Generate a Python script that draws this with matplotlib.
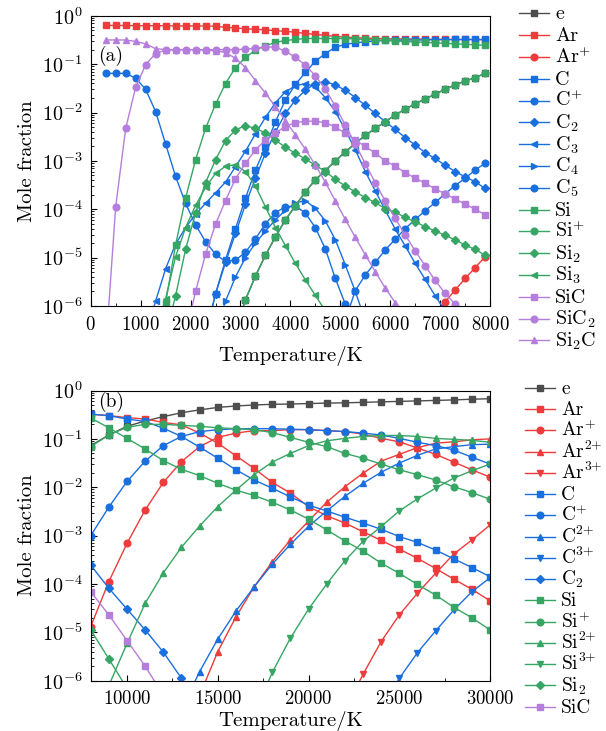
import numpy as np
import matplotlib
matplotlib.use("Agg")
import matplotlib.pyplot as plt
from matplotlib.lines import Line2D

plt.rcParams["font.family"] = "serif"
plt.rcParams["font.serif"] = ["cmr10"]
plt.rcParams["mathtext.fontset"] = "cm"
plt.rcParams["axes.formatter.use_mathtext"] = True

# colours of the species groups
RED = "#EE3B3B"
BLUE = "#1A6FDF"
GREEN = "#37A664"
PURPLE = "#B57EDC"
GREY = "#4D4D4D"

# ---- panel (a): 300-7900 K every 200 K, values are log10(mole fraction) ----
e_a = [-6.5, -5.87, -5.38, -4.95, -4.57, -4.22, -3.93, -3.64, -3.39, -3.20, -3.00, -2.81, -2.64,
       -2.47, -2.33, -2.19, -2.05, -1.93, -1.82, -1.72, -1.62, -1.52, -1.43, -1.35, -1.28, -1.19]
ar_a = [-0.20, -0.20, -0.20, -0.205, -0.205, -0.205, -0.205, -0.21, -0.21, -0.21, -0.21, -0.215,
        -0.24, -0.25, -0.27, -0.28, -0.29, -0.31, -0.32, -0.34, -0.365, -0.385, -0.405, -0.43, -0.44,
        -0.455, -0.46, -0.47, -0.475, -0.478, -0.48, -0.482, -0.484, -0.486, -0.488, -0.49, -0.49,
        -0.492, -0.495]
arp_a = [-6.2, -5.91, -5.67, -5.43, -5.21, -4.98]
c_a = [-6.6, -5.75, -5.05, -4.4, -3.77, -3.19, -2.71, -2.19, -1.74, -1.42, -1.17, -0.94, -0.78,
       -0.65, -0.59, -0.56, -0.54, -0.52, -0.51, -0.505, -0.50, -0.50, -0.50, -0.495, -0.495,
       -0.49, -0.49, -0.49, -0.49]
cp_a = [-6.3, -5.68, -5.36, -5.10, -4.84, -4.62, -4.40, -4.21, -4.03, -3.86, -3.68, -3.51, -3.36,
        -3.19, -3.05]
c2_a = [-6.6, -5.75, -5.1, -4.5, -3.9, -3.36, -2.84, -2.4, -2.02, -1.74, -1.54, -1.40, -1.36, -1.43,
        -1.54, -1.69, -1.85, -2.02, -2.19, -2.35, -2.52, -2.67, -2.83, -2.95, -3.09, -3.22, -3.33,
        -3.43, -3.57]
c3_a = [-6.6, -5.9, -5.23, -4.72, -4.38, -4.1, -3.88, -3.66, -3.44, -3.12, -2.80, -2.44, -2.10,
        -1.80, -1.57, -1.45, -1.40, -1.47, -1.69, -1.98, -2.36, -2.77, -3.22, -3.62, -4.02, -4.41,
        -4.76, -5.12, -5.45, -5.79, -6.1]
c4_a = [-6.6, -5.9, -5.4, -5.0, -4.7, -4.45, -4.22, -4.02, -3.87, -3.82, -3.98, -4.24, -4.63, -5.15,
        -5.7, -6.3]
c5_a = [-1.19, -1.19, -1.19, -1.29, -1.52, -1.98, -2.65, -3.32, -3.88, -4.32, -4.67, -4.93, -5.08,
        -5.05, -4.89, -4.61, -4.30, -4.07, -3.95, -3.93, -4.08, -4.38, -4.82, -5.43, -5.96, -6.6]
si_a = [-6.7, -5.94, -4.74, -3.77, -2.98, -2.33, -1.83, -1.40, -1.07, -0.86, -0.71, -0.62, -0.55,
        -0.51, -0.49, -0.47, -0.47, -0.47, -0.47, -0.47, -0.48, -0.49, -0.50, -0.51, -0.52, -0.53,
        -0.54, -0.55, -0.56, -0.57, -0.58, -0.59, -0.60, -0.61]
sip_a = [-6.5, -5.87, -5.38, -4.95, -4.57, -4.22, -3.93, -3.64, -3.39, -3.20, -3.00, -2.81, -2.64,
         -2.47, -2.33, -2.19, -2.05, -1.93, -1.82, -1.72, -1.62, -1.52, -1.43, -1.35, -1.28, -1.19]
si2_a = [-6.6, -5.79, -4.83, -4.08, -3.45, -2.98, -2.58, -2.36, -2.27, -2.33, -2.42, -2.57, -2.72,
         -2.84, -2.96, -3.09, -3.22, -3.38, -3.52, -3.64, -3.76, -3.86, -3.99, -4.06, -4.17, -4.26,
         -4.36, -4.45, -4.54, -4.63, -4.74, -4.83, -4.95]
si3_a = [-6.9, -5.85, -4.98, -4.38, -3.92, -3.55, -3.26, -3.11, -3.08, -3.22, -3.52, -3.95, -4.38,
         -4.75, -5.12, -5.46, -5.78, -6.1]
sic_a = [-6.6, -5.7, -4.93, -4.31, -3.82, -3.37, -3.05, -2.77, -2.57, -2.42, -2.29, -2.21, -2.18,
         -2.18, -2.21, -2.30, -2.43, -2.57, -2.70, -2.84, -3.0, -3.11, -3.24, -3.36, -3.46, -3.58,
         -3.68, -3.79, -3.89, -4.0, -4.11]
sic2_a = [-6.9, -3.95, -2.33, -1.48, -1.01, -0.78, -0.71, -0.70, -0.70, -0.70, -0.70, -0.70, -0.70,
          -0.70, -0.69, -0.67, -0.64, -0.65, -0.73, -0.86, -1.02, -1.24, -1.52, -1.87, -2.26, -2.65,
          -3.06, -3.45, -3.83, -4.19, -4.53, -4.86, -5.17, -5.47, -5.74, -5.96, -6.2]
si2c_a = [-0.50, -0.50, -0.50, -0.53, -0.58, -0.68, -0.70, -0.70, -0.70, -0.70, -0.71, -0.72, -0.76,
          -0.88, -1.07, -1.34, -1.60, -1.88, -2.17, -2.46, -2.76, -3.09, -3.44, -3.83, -4.21, -4.58,
          -4.94, -5.29, -5.63, -5.93, -6.25]

# ---- panel (b): 8000-30000 K every 1000 K ----
e_b = [-1.14, -0.92, -0.74, -0.63, -0.54, -0.46, -0.40, -0.35, -0.32, -0.30, -0.285, -0.28, -0.27,
       -0.26, -0.255, -0.245, -0.235, -0.225, -0.215, -0.205, -0.195, -0.18, -0.17]
ar_b = [-0.49, -0.52, -0.56, -0.59, -0.66, -0.71, -0.88, -1.09, -1.35, -1.61, -1.90, -2.12, -2.40,
        -2.59, -2.74, -2.92, -3.10, -3.28, -3.47, -3.68, -3.90, -4.11, -4.35]
arp_b = [-4.88, -3.95, -3.16, -2.47, -1.90, -1.47, -1.16, -0.97, -0.88, -0.83, -0.83, -0.81, -0.81,
         -0.83, -0.85, -0.90, -0.99, -1.06, -1.19, -1.32, -1.48, -1.64, -1.79]
ar2p_b = [-6.3, -5.40, -4.68, -4.06, -3.54, -3.09, -2.70, -2.31, -1.99, -1.71, -1.46, -1.32, -1.18,
          -1.09, -1.06, -1.02, -1.0]
ar3p_b = [-6.6, -5.87, -5.19, -4.64, -4.19, -3.78, -3.38, -3.09, -2.78]
c_b = [-0.49, -0.52, -0.59, -0.64, -0.78, -0.95, -1.17, -1.40, -1.64, -1.85, -2.02, -2.20, -2.37,
       -2.49, -2.62, -2.74, -2.87, -3.02, -3.14, -3.30, -3.48, -3.66, -3.85]
cp_b = [-3.00, -2.41, -1.88, -1.46, -1.14, -0.95, -0.85, -0.81, -0.79, -0.79, -0.79, -0.80, -0.81,
        -0.83, -0.85, -0.88, -0.92, -0.99, -1.07, -1.14, -1.23, -1.38, -1.52]
c2p_b = [-6.6, -5.81, -5.14, -4.56, -4.06, -3.59, -3.18, -2.81, -2.49, -2.19, -1.92, -1.69, -1.50,
         -1.34, -1.21, -1.16, -1.12, -1.11]
c3p_b = [-6.6, -5.95, -5.42, -4.97, -4.54, -4.16, -3.87]
c2_b = [-3.61, -4.09, -4.52, -4.95, -5.41, -5.95, -6.6]
si_b = [-0.57, -0.77, -0.99, -1.21, -1.45, -1.63, -1.76, -1.92, -2.06, -2.17, -2.31, -2.47, -2.66,
        -2.88, -3.11, -3.32, -3.57, -3.78, -4.01, -4.23, -4.48, -4.70, -4.95]
sip_b = [-1.16, -0.92, -0.76, -0.70, -0.70, -0.72, -0.74, -0.77, -0.79, -0.81, -0.87, -0.97, -1.07,
         -1.16, -1.30, -1.40, -1.52, -1.64, -1.74, -1.85, -1.99, -2.11, -2.25]
si2p_b = [-6.1, -5.23, -4.40, -3.77, -3.24, -2.80, -2.40, -2.06, -1.74, -1.48, -1.30, -1.14, -1.04,
          -0.99, -0.95, -0.93, -0.93, -0.95, -0.99, -1.01, -1.03, -1.07]
si3p_b = [-6.7, -5.83, -5.12, -4.52, -4.0, -3.52, -3.12, -2.81, -2.49, -2.24, -2.02, -1.81, -1.66,
          -1.52]
si2_b = [-4.95, -5.55, -6.16]
sic_b = [-4.16, -4.64, -5.17, -5.70, -6.3]

# (label, values, first temperature, colour, marker)
series_a = [
    ("e", e_a, 2900, GREY, "s"),
    ("Ar", ar_a, 300, RED, "s"),
    ("Ar$^{+}$", arp_a, 6900, RED, "o"),
    ("C", c_a, 2300, BLUE, "s"),
    ("C$^{+}$", cp_a, 5100, BLUE, "o"),
    ("C$_{2}$", c2_a, 2300, BLUE, "D"),
    ("C$_{3}$", c3_a, 1100, BLUE, "<"),
    ("C$_{4}$", c4_a, 2500, BLUE, ">"),
    ("C$_{5}$", c5_a, 300, BLUE, "o"),
    ("Si", si_a, 1300, GREEN, "s"),
    ("Si$^{+}$", sip_a, 2900, GREEN, "o"),
    ("Si$_{2}$", si2_a, 1500, GREEN, "D"),
    ("Si$_{3}$", si3_a, 1300, GREEN, "<"),
    ("SiC", sic_a, 1900, PURPLE, "s"),
    ("SiC$_{2}$", sic2_a, 300, PURPLE, "o"),
    ("Si$_{2}$C", si2c_a, 300, PURPLE, "^"),
]
series_b = [
    ("e", e_b, 8000, GREY, "s"),
    ("Ar", ar_b, 8000, RED, "s"),
    ("Ar$^{+}$", arp_b, 8000, RED, "o"),
    ("Ar$^{2{+}}$", ar2p_b, 14000, RED, "^"),
    ("Ar$^{3{+}}$", ar3p_b, 22000, RED, "v"),
    ("C", c_b, 8000, BLUE, "s"),
    ("C$^{+}$", cp_b, 8000, BLUE, "o"),
    ("C$^{2{+}}$", c2p_b, 13000, BLUE, "^"),
    ("C$^{3{+}}$", c3p_b, 24000, BLUE, "v"),
    ("C$_{2}$", c2_b, 8000, BLUE, "D"),
    ("Si", si_b, 8000, GREEN, "s"),
    ("Si$^{+}$", sip_b, 8000, GREEN, "o"),
    ("Si$^{2{+}}$", si2p_b, 9000, GREEN, "^"),
    ("Si$^{3{+}}$", si3p_b, 17000, GREEN, "v"),
    ("Si$_{2}$", si2_b, 8000, GREEN, "D"),
    ("SiC", sic_b, 8000, PURPLE, "s"),
]

W, H = 606, 731
fig = plt.figure(figsize=(W / 100, H / 100), dpi=100)
ax_a = fig.add_axes([0.1497, 0.5814, 0.659, 0.397])
ax_b = fig.add_axes([0.1497, 0.0688, 0.659, 0.397])


def msize(mk):
    return 4.0 if mk == "D" else 4.8


def draw(ax, series, step, labelpad):
    for label, vals, t0, col, mk in series:
        t = t0 + step * np.arange(len(vals))
        ax.plot(t, 10.0 ** np.array(vals), color=col, marker=mk, markersize=msize(mk),
                linewidth=1.0)
    ax.set_yscale("log")
    ax.set_ylim(1e-6, 1)
    ax.set_ylabel("Mole fraction", fontsize=15, labelpad=4)
    ax.set_xlabel("Temperature/K", fontsize=15, labelpad=labelpad)
    ax.tick_params(which="both", direction="in")
    ax.tick_params(axis="x", labelsize=13.5, pad=7)
    ax.tick_params(axis="y", labelsize=14.5, pad=6)
    ax.tick_params(which="major", length=4)
    ax.tick_params(which="minor", length=2.5)


# hand-placed legend so the rows sit as tight as in the original
def side_legend(series, y_first, dy, x_line, x_text, fs):
    for i, (label, vals, t0, col, mk) in enumerate(series):
        yp = y_first + i * dy
        y = 1 - yp / H
        xs = [x_line / W, (x_line + 15) / W, (x_line + 30) / W]
        fig.add_artist(Line2D(xs, [y, y, y], transform=fig.transFigure, color=col,
                              marker=mk, markevery=[1], markersize=msize(mk), linewidth=1.0))
        fig.text(x_text / W, 1 - (yp + 6) / H, label, fontsize=fs, va="baseline")


draw(ax_a, series_a, 200, 9)
ax_a.set_xlim(0, 8000)
ax_a.set_xticks(range(0, 8001, 1000))
ax_a.set_xticks(range(500, 8000, 1000), minor=True)
ax_a.text(0.018, 0.862, "(a)", transform=ax_a.transAxes, fontsize=14, va="center")
side_legend(series_a, 13.3, 21.8, 519, 555, 14.5)

draw(ax_b, series_b, 1000, 2)
ax_b.set_xlim(8000, 30000)
ax_b.set_xticks(range(10000, 30001, 5000))
ax_b.set_xticks(range(12500, 30000, 5000), minor=True)
ax_b.text(0.018, 0.962, "(b)", transform=ax_b.transAxes, fontsize=14, va="center")
side_legend(series_b, 387.7, 21.27, 525, 561, 14)

fig.savefig("out.png", dpi=100)
